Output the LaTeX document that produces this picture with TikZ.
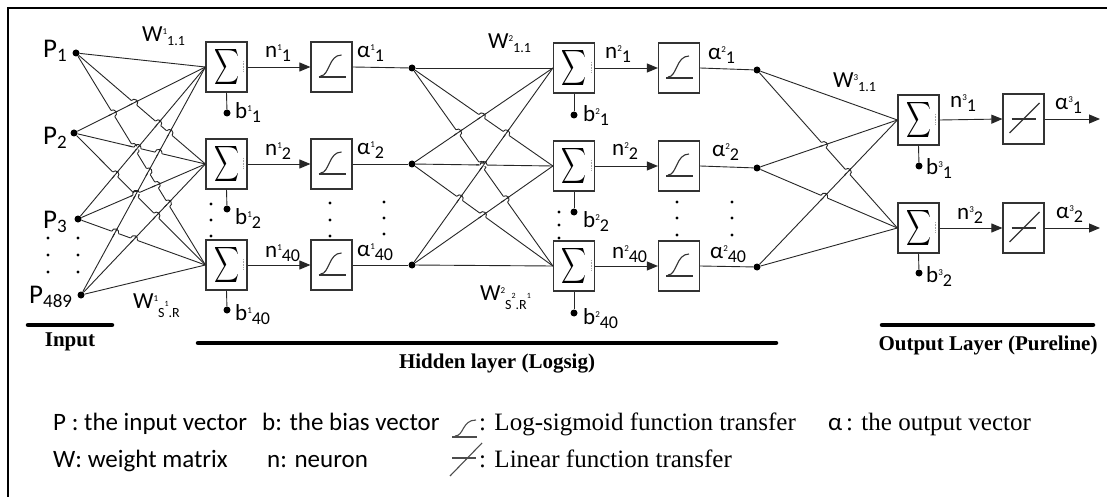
\documentclass[tikz,border=0pt]{standalone}
\usepackage{fontspec}
\usepackage{graphicx}
\setmainfont{Carlito}
\newfontfamily\serifface{Liberation Serif}
\usetikzlibrary{arrows.meta}

% raised / lowered indices for the layer labels
\newcommand\hsup[1]{\raisebox{7pt}{\fontsize{9}{9}\selectfont#1}}
\newcommand\hsub[1]{\raisebox{-4pt}{\fontsize{18}{18}\selectfont#1}}
\newcommand\wsub[1]{\raisebox{-4pt}{\fontsize{14}{14}\selectfont#1}}
\newcommand\psub[1]{\raisebox{-4pt}{\fontsize{19}{19}\selectfont#1}}
\newcommand\sumglyph{\resizebox*{25pt}{40pt}{$\displaystyle\sum$}}

\tikzset{
  wire/.style={line width=0.9pt, draw=black!85},
  arr/.style={wire, -{Triangle[length=11pt,width=9pt]}},
  blockbox/.style={draw=black!80, line width=1.2pt, minimum width=41pt,
    minimum height=50pt, inner sep=0pt, fill=white},
  dot/.style={circle, fill=black, inner sep=0pt, minimum size=7pt},
  vdot/.style={circle, fill=black, inner sep=0pt, minimum size=3.2pt},
  lbl/.style={anchor=base west, inner sep=0pt, font=\fontsize{23}{23}\selectfont},
  plbl/.style={anchor=base west, inner sep=0pt, font=\fontsize{27}{27}\selectfont},
  legend/.style={anchor=base west, inner sep=0pt, font=\fontsize{25}{25}\selectfont},
  section/.style={anchor=base, inner sep=0pt, font=\serifface\bfseries\fontsize{21}{21}\selectfont},
  bar/.style={line width=4.5pt, line cap=round},
  glyph/.style={line width=1.1pt, draw=black!80},
}

% Line hop where the weight line #3->#4 crosses the line #1->#2:
% the later line is broken and bridged by a small half circle.
\newcommand\hopcross[4]{%
  \pgfpointanchor{#1}{center}\pgfgetlastxy{\hpxa}{\hpya}%
  \pgfpointanchor{#2}{west}\pgfgetlastxy{\hpxb}{\hpyb}%
  \pgfpointanchor{#3}{center}\pgfgetlastxy{\hpxc}{\hpyc}%
  \pgfpointanchor{#4}{west}\pgfgetlastxy{\hpxd}{\hpyd}%
  \pgfmathsetmacro\hprx{(\hpxb-\hpxa)/10}%
  \pgfmathsetmacro\hpry{(\hpyb-\hpya)/10}%
  \pgfmathsetmacro\hpsx{(\hpxd-\hpxc)/10}%
  \pgfmathsetmacro\hpsy{(\hpyd-\hpyc)/10}%
  \pgfmathsetmacro\hpqx{(\hpxc-\hpxa)/10}%
  \pgfmathsetmacro\hpqy{(\hpyc-\hpya)/10}%
  \pgfmathsetmacro\hpden{\hprx*\hpsy-\hpry*\hpsx}%
  \pgfmathtruncatemacro\hpok{abs(\hpden)>0.01 ? 1 : 0}%
  \ifnum\hpok=1
    \pgfmathsetmacro\hpt{(\hpqx*\hpsy-\hpqy*\hpsx)/\hpden}%
    \pgfmathsetmacro\hpu{(\hpqx*\hpry-\hpqy*\hprx)/\hpden}%
    \pgfmathtruncatemacro\hpin{(\hpt>0.04 && \hpt<0.96 && \hpu>0.04 && \hpu<0.96) ? 1 : 0}%
    \ifnum\hpin=1
      \pgfmathsetmacro\hpX{\hpxa+\hpt*\hprx*10}%
      \pgfmathsetmacro\hpY{\hpya+\hpt*\hpry*10}%
      \pgfmathsetmacro\hpth{atan2(\hpsy,\hpsx)}%
      \pgfmathsetmacro\hpthr{atan2(\hpry,\hprx)}%
      \draw[white, line width=2.6pt]
        ([shift={(\hpth:3.6pt)}]\hpX pt,\hpY pt) -- ([shift={(\hpth+180:3.6pt)}]\hpX pt,\hpY pt);
      \draw[wire]
        ([shift={(\hpthr:5pt)}]\hpX pt,\hpY pt) -- ([shift={(\hpthr+180:5pt)}]\hpX pt,\hpY pt);
      \draw[wire] ([shift={(\hpth+180:3.6pt)}]\hpX pt,\hpY pt)
        arc[start angle=\hpth+180, end angle=\hpth, radius=3.6pt];
    \fi
  \fi}
% all crossings of a fully connected set of weight lines
\newcommand\hopnet[2]{%
  \foreach \hsa [count=\hia] in {#1} {%
    \foreach \hta [count=\hja] in {#2} {%
      \foreach \hsb [count=\hib] in {#1} {%
        \foreach \htb [count=\hjb] in {#2} {%
          \ifnum\hib=\hia\else\ifnum\hjb=\hja\else
            \pgfmathtruncatemacro\hlater{(\hjb*10+\hib) > (\hja*10+\hia) ? 1 : 0}%
            \ifnum\hlater=1 \hopcross{\hsa}{\hta}{\hsb}{\htb}\fi
          \fi\fi
        }}}}}

\begin{document}
\begin{tikzpicture}[x=1pt,y=-1pt]
\useasboundingbox (0,0) rectangle (1107,497);
\fill[white] (0,0) rectangle (1107,497);
\draw[line width=2pt] (8,497) -- (8,8) -- (1107,8);

% ---- input nodes
\node[dot] (p1) at (76,53) {};
\node[dot] (p2) at (74,133) {};
\node[dot] (p3) at (78,219) {};
\node[dot] (p4) at (81,295) {};
\node[plbl] (lp1) at (43,58) {P\psub{1}};
\node[plbl] (lp2) at (43,145) {P\psub{2}};
\node[plbl] (lp3) at (43,228) {P\psub{3}};
\node[plbl] (lp4) at (29,303) {P\psub{489}};
\foreach \yy [count=\k] in {238,255,272} {
  \node[vdot] (ia\k) at (48,\yy) {};
  \node[vdot] (ib\k) at (78,\yy) {};
}

% ---- hidden layer 1
\node[blockbox] (s11) at (226.5,67) {\sumglyph};
\node[blockbox] (s12) at (226.5,164) {\sumglyph};
\node[blockbox] (s13) at (226.5,265) {\sumglyph};
\node[blockbox] (g11) at (331.5,67) {};
\node[blockbox] (g12) at (331.5,164) {};
\node[blockbox] (g13) at (331.5,265) {};
\node[dot] (h11) at (412,68) {};
\node[dot] (h12) at (412,164) {};
\node[dot] (h13) at (412,265) {};
\node[dot] (b11) at (227,113) {};
\node[dot] (b12) at (227,209) {};
\node[dot] (b13) at (227,310) {};

% ---- hidden layer 2
\node[blockbox] (s21) at (574,68) {\sumglyph};
\node[blockbox] (s22) at (574,166) {\sumglyph};
\node[blockbox] (s23) at (574,266) {\sumglyph};
\node[blockbox] (g21) at (679,68) {};
\node[blockbox] (g22) at (679,166) {};
\node[blockbox] (g23) at (679,266) {};
\node[dot] (h21) at (757,70) {};
\node[dot] (h22) at (757,168) {};
\node[dot] (h23) at (757,267) {};
\node[dot] (b21) at (574,115) {};
\node[dot] (b22) at (574,212) {};
\node[dot] (b23) at (574,313) {};

% ---- output layer
\node[blockbox] (s31) at (918.5,120) {\sumglyph};
\node[blockbox] (s32) at (918.5,228) {\sumglyph};
\node[blockbox] (l31) at (1023.5,119) {};
\node[blockbox] (l32) at (1023.5,228) {};
\node[dot] (b31) at (919,166) {};
\node[dot] (b32) at (919,273) {};
\coordinate (o1) at (1100,119);
\coordinate (o2) at (1100,228);

% faint dotted marks inside the summing blocks
\foreach \n in {s11,s12,s13,s21,s22,s23,s31,s32}
  \draw[black!35, densely dotted, line width=0.6pt]
    ([shift={(-4,-6)}]\n.east) -- ([shift={(-4,5)}]\n.east);

% log-sigmoid glyphs
\foreach \n in {g11,g12,g13,g21,g22,g23} {
  \begin{scope}[shift={(\n.center)}]
    \draw[glyph] (-13,10) -- (14,10);
    \draw[glyph] (-11,9) .. controls (-2,9) and (-3,-12) .. (10,-12);
  \end{scope}
}
% linear glyphs
\foreach \n in {l31,l32} {
  \begin{scope}[shift={(\n.center)}]
    \draw[glyph] (-12,0) -- (12,0);
    \draw[glyph] (-14,14) -- (16,-16);
  \end{scope}
}

% ---- weight connections
\foreach \p in {p1,p2,p3,p4}
  \foreach \s in {s11,s12,s13}
    \draw[wire] (\p) -- (\s.west);
\foreach \h in {h11,h12,h13}
  \foreach \s in {s21,s22,s23}
    \draw[wire] (\h) -- (\s.west);
\foreach \h in {h21,h22,h23}
  \foreach \s in {s31,s32}
    \draw[wire] (\h) -- (\s.west);
% line hops at the crossings
\hopnet{p1,p2,p3,p4}{s11,s12,s13}
\hopnet{h11,h12,h13}{s21,s22,s23}
\hopnet{h21,h22,h23}{s31,s32}

% ---- block chains
\foreach \i in {1,2,3} {
  \draw[arr] (s1\i.east) -- (g1\i.west);
  \draw[wire] (g1\i.east) -- (h1\i);
  \draw[wire] (s1\i.south) -- (b1\i);
  \draw[arr] (s2\i.east) -- (g2\i.west);
  \draw[wire] (g2\i.east) -- (h2\i);
  \draw[wire] (s2\i.south) -- (b2\i);
}
\draw[arr] (s31.east) -- (l31.west);
\draw[arr] (s32.east) -- (l32.west);
\draw[arr] (l31.east) -- (o1);
\draw[arr] (l32.east) -- (o2);
\draw[wire] (s31.south) -- (b31);
\draw[wire] (s32.south) -- (b32);

% vertical ellipses in the hidden layers
\foreach \xx/\ya/\yb/\yc [count=\k] in {211/204/220/236, 330/203/220/236, 384/202/218/234,
    559/212/225/238, 677/202/218/235, 732/202/218/235} {
  \node[vdot] (ea\k) at (\xx,\ya) {};
  \node[vdot] (eb\k) at (\xx,\yb) {};
  \node[vdot] (ec\k) at (\xx,\yc) {};
}

% ---- labels
\node[lbl] (w11) at (142,42) {W\hsup{1}\wsub{1.1}};
\node[lbl] (w1r) at (133,308) {W\hsup{1}\raisebox{-9pt}{\fontsize{14}{14}\selectfont S\raisebox{11pt}{\fontsize{8}{8}\selectfont 1}.R}};
\node[lbl] (w21) at (488,49) {W\hsup{2}\wsub{1.1}};
\node[lbl] (w2r) at (480,300) {W\hsup{2}\raisebox{-9pt}{\fontsize{14}{14}\selectfont S\raisebox{11pt}{\fontsize{8}{8}\selectfont 2}.R\raisebox{11pt}{\fontsize{8}{8}\selectfont 1}}};
\node[lbl] (w31) at (833,88) {W\hsup{3}\wsub{1.1}};

\node[lbl] (n11) at (265,58) {n\hsup{1}\hsub{1}};
\node[lbl] (n12) at (265,156) {n\hsup{1}\hsub{2}};
\node[lbl] (n13) at (265,257) {n\hsup{1}\hsub{40}};
\node[lbl] (a11) at (357,58) {α\hsup{1}\hsub{1}};
\node[lbl] (a12) at (357,155) {α\hsup{1}\hsub{2}};
\node[lbl] (a13) at (357,256) {α\hsup{1}\hsub{40}};
\node[lbl] (lb11) at (235,119) {b\hsup{1}\hsub{1}};
\node[lbl] (lb12) at (235,224) {b\hsup{1}\hsub{2}};
\node[lbl] (lb13) at (235,320) {b\hsup{1}\hsub{40}};

\node[lbl] (n21) at (605,59) {n\hsup{2}\hsub{1}};
\node[lbl] (n22) at (612,156) {n\hsup{2}\hsub{2}};
\node[lbl] (n23) at (612,258) {n\hsup{2}\hsub{40}};
\node[lbl] (a21) at (708,60) {α\hsup{2}\hsub{1}};
\node[lbl] (a22) at (712,157) {α\hsup{2}\hsub{2}};
\node[lbl] (a23) at (710,258) {α\hsup{2}\hsub{40}};
\node[lbl] (lb21) at (583,122) {b\hsup{2}\hsub{1}};
\node[lbl] (lb22) at (583,227) {b\hsup{2}\hsub{2}};
\node[lbl] (lb23) at (583,324) {b\hsup{2}\hsub{40}};

\node[lbl] (n31) at (950,108) {n\hsup{3}\hsub{1}};
\node[lbl] (n32) at (957,219) {n\hsup{3}\hsub{2}};
\node[lbl] (a31) at (1055,110) {α\hsup{3}\hsub{1}};
\node[lbl] (a32) at (1056,218) {α\hsup{3}\hsub{2}};
\node[lbl] (lb31) at (926,175) {b\hsup{3}\hsub{1}};
\node[lbl] (lb32) at (926,282) {b\hsup{3}\hsub{2}};

% ---- section bars
\draw[bar] (28,325) -- (112,325);
\draw[bar] (198,343) -- (776,343);
\draw[bar] (882,325) -- (1093,325);
\node[section] (sin) at (70,346) {Input};
\node[section] (shid) at (497,368) {Hidden layer (Logsig)};
\node[section] (sout) at (988,350) {Output Layer (Pureline)};

% ---- legend
\node[legend] (k1) at (53,430) {P : the input vector};
\node[legend] (k2) at (262,430) {b: the bias vector};
\node[legend] (k3) at (53,467) {W: weight matrix};
\node[legend] (k4) at (267,467) {n: neuron};
\draw[glyph, black!70] (452,437) -- (477,437);
\draw[glyph, black!70] (455,436) .. controls (464,436) and (462,420) .. (476,420);
\draw[glyph, black!70] (452,458) -- (476,458);
\draw[glyph, black!70] (450,476) -- (482,443);
\node[legend, font=\serifface\fontsize{25}{25}\selectfont] (k5) at (479,430) {: Log-sigmoid function transfer};
\node[legend, font=\serifface\fontsize{25}{25}\selectfont] (k6) at (479,467) {: Linear function transfer};
\node[legend] (k7) at (828,430) {α};
\node[legend, font=\serifface\fontsize{25}{25}\selectfont] (k8) at (846,430) {: the output vector};
\end{tikzpicture}
\end{document}
